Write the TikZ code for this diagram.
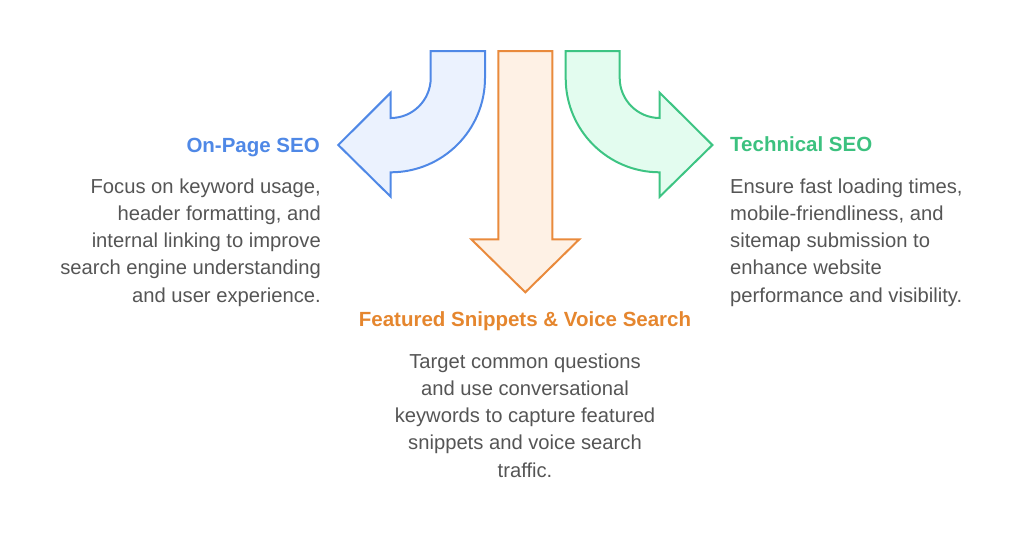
\documentclass[tikz,border=0pt]{standalone}
\usepackage{fontspec}
\setmainfont{Liberation Sans}
\definecolor{bluestroke}{HTML}{4F88E6}
\definecolor{bluefill}{HTML}{EBF2FE}
\definecolor{orangestroke}{HTML}{E98A3C}
\definecolor{orangefill}{HTML}{FEF1E5}
\definecolor{greenstroke}{HTML}{3DC483}
\definecolor{greenfill}{HTML}{E3FCEF}
\definecolor{bluetitle}{HTML}{4F88E6}
\definecolor{orangetitle}{HTML}{E5862E}
\definecolor{greentitle}{HTML}{3CC17F}
\definecolor{bodytext}{HTML}{555555}
\tikzset{
  arrowshape/.style={line width=2pt, line join=miter},
  title/.style={font=\fontsize{20.5}{24}\selectfont\bfseries, inner sep=0pt},
  body/.style={font=\fontsize{20.2}{27.2}\selectfont, text=bodytext, inner sep=0pt}
}
\begin{document}
\begin{tikzpicture}[x=1pt,y=-1pt]
        \useasboundingbox (0,0) rectangle (1024,536);
        % blue curved arrow
        \draw[arrowshape,draw=bluestroke,fill=bluefill] (430.7,51) -- (485,51) -- (485,78)
            arc[start angle=0,end angle=90,radius=94.3] -- (390.7,196.7) -- (338.3,145)
            -- (390.7,92.7) -- (390.7,118) arc[start angle=90,end angle=0,radius=40] -- cycle;
        % orange straight arrow
        \draw[arrowshape,draw=orangestroke,fill=orangefill] (498.3,51) -- (552.3,51) -- (552.3,239.3)
            -- (579.3,239.3) -- (525.3,292.3) -- (471.3,239.3) -- (498.3,239.3) -- cycle;
        % green curved arrow
        \draw[arrowshape,draw=greenstroke,fill=greenfill] (565.7,51) -- (619.7,51) -- (619.7,78)
            arc[start angle=180,end angle=90,radius=40] -- (659.7,92.7) -- (712.4,145)
            -- (659.7,196.7) -- (659.7,172.3) arc[start angle=90,end angle=180,radius=94] -- cycle;
        % texts (base anchor = last line)
        \node[title,text=bluetitle,anchor=base east] (onpage) at (320,152.7) {On-Page SEO};
        \node[body,align=right,anchor=base east] (onpagetext) at (321,302.1) {Focus on keyword usage,\\header formatting, and\\internal linking to improve\\search engine understanding\\and user experience.};
        \node[title,text=greentitle,anchor=base west] (technical) at (730,151.7) {Technical SEO};
        \node[body,align=left,anchor=base west] (technicaltext) at (730,302.1) {Ensure fast loading times,\\mobile-friendliness, and\\sitemap submission to\\enhance website\\performance and visibility.};
        \node[title,text=orangetitle,anchor=base] (snippets) at (525,326.7) {Featured Snippets \& Voice Search};
        \node[body,align=center,anchor=base] (snippetstext) at (525,477.1) {Target common questions\\and use conversational\\keywords to capture featured\\snippets and voice search\\traffic.};
    \end{tikzpicture}
\end{document}
